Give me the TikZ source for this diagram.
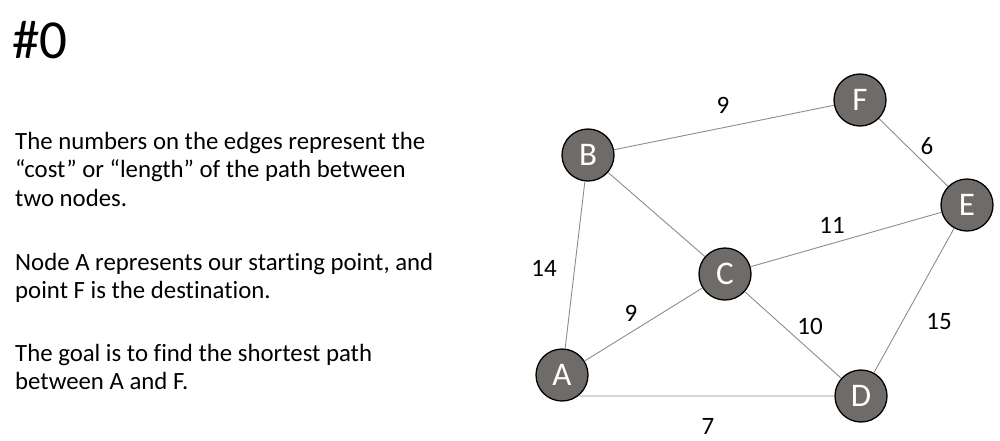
\documentclass[tikz,border=0pt]{standalone}
\usepackage{fontspec}
\setmainfont[Ligatures=NoCommon]{Carlito}
\definecolor{nodegray}{RGB}{111,107,104}
\definecolor{edgegray}{RGB}{140,140,140}
\begin{document}
\begin{tikzpicture}[x=1pt,y=-1pt,
  vert/.style={circle,draw=black,line width=1.3pt,fill=nodegray,minimum size=52pt,inner sep=0pt,text=white,font=\fontsize{33}{35}\selectfont},
  edge/.style={draw=edgegray,line width=0.9pt},
  wlabel/.style={font=\fontsize{25}{27}\selectfont,text=black,inner sep=0pt},
  body/.style={anchor=base west,inner sep=0pt,font=\fontsize{24.8}{28}\selectfont}]
\useasboundingbox (0,0) rectangle (1000,440);
\node[anchor=base west,inner sep=0pt,font=\fontsize{55}{60}\selectfont] (title) at (12,58) {\#0};
\node[body] (t1) at (15,149) {The numbers on the edges represent the};
\node[body] (t2) at (15,177.5) {“cost” or “length” of the path between};
\node[body] (t3) at (15,206) {two nodes.};
\node[body] (t4) at (15,270) {Node A represents our starting point, and};
\node[body] (t5) at (15,298.5) {point F is the destination.};
\node[body] (t6) at (15,361) {The goal is to find the shortest path};
\node[body] (t7) at (15,389.5) {between A and F.};

\node[vert] (B) at (588,155) {B};
\node[vert] (F) at (860,100) {F};
\node[vert] (E) at (967,205) {E};
\node[vert] (C) at (725,274) {C};
\node[vert] (A) at (562,375) {A};
\node[vert] (D) at (861,396) {D};

\draw[edge] (B) -- (F);
\draw[edge] (F) -- (E);
\draw[edge] (B) -- (C);
\draw[edge] (B) -- (A);
\draw[edge] (C) -- (E);
\draw[edge] (C) -- (A);
\draw[edge] (C) -- (D);
\draw[edge] (E) -- (D);
\draw[edge] (A.-52) -- (D.west);

\node[wlabel] (l1) at (723,105) {9};
\node[wlabel] (l2) at (927,146) {6};
\node[wlabel] (l3) at (832,225) {11};
\node[wlabel] (l4) at (544,268) {14};
\node[wlabel] (l5) at (631,313) {9};
\node[wlabel] (l6) at (810,326) {10};
\node[wlabel] (l7) at (939,322) {15};
\node[wlabel] (l8) at (708,426) {7};
\end{tikzpicture}
\end{document}
